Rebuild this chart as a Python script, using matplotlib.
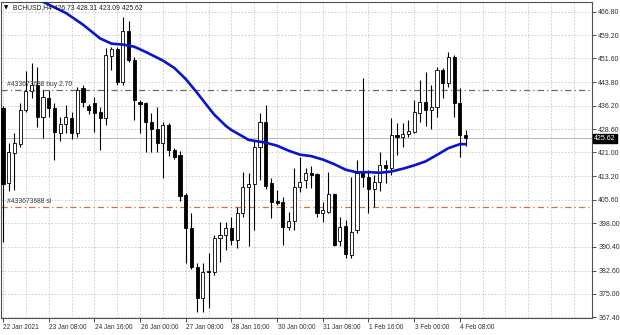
import matplotlib
matplotlib.use("Agg")
import matplotlib.pyplot as plt
import matplotlib.transforms as mtransforms
import numpy as np

plt.rcParams['font.family'] = ['Liberation Sans', 'DejaVu Sans']

# H4 bars of BCHUSD, 22 Jan 2021 00:00 onwards (open, high, low, close)
opens = [435.4, 411.2, 420.9, 423.8, 434.8, 441.1, 442.9, 432.6, 438.6, 435.4,
         427.4, 430.3, 432.1, 427.2, 441.9, 436.1, 437.2, 434.3, 432.1, 452.4,
         454.6, 444.0, 460.6, 451.1, 437.5, 437.2, 431.0, 428.5, 424.2, 429.9,
         421.7, 420.2, 407.2, 396.3, 383.8, 373.6, 382.2, 382.2, 393.1, 394.2,
         396.3, 392.5, 401.2, 409.9, 410.8, 422.9, 431.0, 411.2, 405.3, 405.0,
         396.9, 398.8, 409.7, 412.0, 414.4, 414.0, 401.4, 401.7, 407.5, 392.3,
         397.1, 387.7, 395.8, 414.2, 412.9, 409.0, 411.5, 416.9, 415.9, 426.7,
         425.9, 426.9, 427.8, 433.9, 437.5, 434.8, 435.9, 447.8, 443.5, 452.0,
         437.0, 426.73]
highs = [436.0, 424.0, 427.4, 437.2, 447.6, 450.0, 448.9, 441.3, 441.3, 437.0,
         432.6, 436.5, 434.3, 442.2, 442.9, 436.8, 438.9, 435.9, 454.9, 455.4,
         455.4, 465.2, 463.9, 452.2, 438.1, 437.5, 433.7, 435.9, 431.0, 430.5,
         422.3, 421.5, 407.7, 401.2, 384.9, 384.9, 388.2, 394.2, 398.5, 398.5,
         400.1, 403.4, 414.7, 414.2, 425.1, 433.7, 436.5, 412.6, 408.8, 406.6,
         401.7, 415.9, 419.6, 415.9, 416.6, 414.2, 405.0, 414.7, 407.9, 400.1,
         399.0, 413.1, 418.6, 445.1, 415.3, 413.7, 421.3, 418.6, 432.1, 430.5,
         430.5, 431.6, 438.1, 444.6, 447.3, 442.9, 448.9, 448.4, 453.8, 452.7,
         441.9, 428.31]
lows = [392.0, 408.6, 408.8, 422.9, 434.3, 438.6, 429.4, 425.6, 432.4, 418.6,
        424.6, 427.2, 425.3, 426.1, 435.9, 433.5, 427.8, 421.8, 429.9, 447.8,
        443.0, 443.0, 450.5, 431.5, 427.2, 421.0, 421.0, 421.0, 412.6, 420.0,
        419.0, 405.1, 385.0, 383.0, 369.2, 369.2, 370.3, 381.0, 385.5, 389.4,
        391.0, 389.9, 400.0, 390.5, 395.8, 412.0, 409.0, 399.6, 404.0, 390.9,
        395.8, 395.8, 408.0, 409.4, 409.4, 400.1, 398.5, 401.2, 390.6, 390.6,
        386.6, 386.6, 394.7, 409.9, 401.4, 403.4, 408.6, 411.1, 413.7, 420.2,
        422.9, 425.9, 427.2, 431.0, 429.6, 428.5, 432.6, 438.6, 442.4, 432.6,
        419.6, 423.09]
closes = [410.7, 421.3, 424.0, 434.8, 441.1, 442.9, 432.6, 439.2, 435.4, 427.8,
          430.3, 432.4, 427.4, 441.3, 437.5, 434.8, 433.9, 432.1, 452.7, 454.6,
          444.0, 460.6, 451.1, 438.1, 436.8, 431.0, 428.5, 424.2, 429.9, 421.7,
          419.6, 406.8, 396.3, 383.8, 373.6, 382.2, 382.0, 393.1, 394.2, 396.3,
          392.5, 401.2, 409.9, 410.8, 422.9, 431.0, 410.1, 405.0, 404.7, 396.9,
          398.8, 409.7, 411.5, 414.4, 413.8, 401.4, 402.3, 407.5, 390.9, 396.9,
          388.0, 395.2, 414.2, 412.9, 409.0, 411.5, 416.9, 415.9, 426.7, 426.1,
          427.0, 428.0, 434.3, 437.5, 434.8, 435.9, 447.8, 443.7, 452.0, 437.0,
          426.7, 425.62]

# moving average (bar index, price)
ma_bars = [6, 8, 11, 14, 17, 19, 21, 23, 25, 28, 30, 32, 34, 35, 37, 39, 40,
           42, 43, 45, 46, 48, 50, 52, 54, 56, 58, 60, 62, 64, 66, 68, 70, 72,
           74, 76, 78, 80, 81]
ma_vals = [471.0, 469.1, 466.4, 462.6, 458.1, 456.4, 456.1, 455.4, 453.7,
           450.9, 448.5, 444.9, 440.4, 438.0, 433.3, 429.7, 428.3, 426.2,
           425.1, 424.5, 424.2, 423.2, 421.6, 420.3, 419.8, 418.7, 417.2,
           415.4, 414.5, 414.6, 414.4, 414.8, 415.7, 416.8, 418.1, 420.2,
           422.4, 423.7, 423.7]

price_ticks = [466.8, 459.2, 451.6, 443.8, 436.2, 428.6, 421.0, 413.2, 405.6,
               398.0, 390.4, 382.6, 375.0, 367.4]
time_labels = ["22 Jan 2021", "23 Jan 08:00", "24 Jan 16:00", "26 Jan 00:00",
               "27 Jan 08:00", "28 Jan 16:00", "30 Jan 00:00", "31 Jan 08:00",
               "1 Feb 16:00", "3 Feb 00:00", "4 Feb 08:00"]

buy_price = 441.3
sl_price = 403.4
last_price = 425.62
header = "BCHUSD,H4 426.73 428.31 423.09 425.62"

W, H = 620, 335
fig = plt.figure(figsize=(W / 100, H / 100), dpi=100)
fig.patch.set_facecolor('white')
ax = fig.add_axes([1 / W, 17 / H, 591 / W, 316 / H])

o = np.array(opens)
c = np.array(closes)
x = np.arange(len(o))
up = c >= o

# grid
grid_kw = dict(color='#c8c8c8', lw=0.6, ls=(0, (2, 2)), zorder=0)
for gx in range(0, 104, 4):
    ax.axvline(gx, **grid_kw)
for gy in price_ticks:
    ax.axhline(gy, **grid_kw)

# order levels and current price
ax.axhline(buy_price, color='#4d7d4d', lw=0.9, ls=(0, (5, 2.5, 1, 2.5)), zorder=1)
ax.axhline(sl_price, color='#dc6e38', lw=0.9, ls=(0, (5, 2.5, 1, 2.5)), zorder=1)
ax.axhline(last_price, color='#b4b4b4', lw=0.7, zorder=1)
ax.text(0.7, buy_price + 0.6, "#433673688 buy 2.70", fontsize=4.9,
        color='#3a3a3a', va='bottom', ha='left', zorder=4)
ax.text(0.7, sl_price + 0.6, "#433673688 sl", fontsize=4.9,
        color='#3a3a3a', va='bottom', ha='left', zorder=4)

# candles
ax.vlines(x, lows, highs, color='black', lw=0.8, zorder=2)
body = np.maximum(np.abs(c - o), 0.35)
bottom = np.minimum(o, c)
ax.bar(x[up], body[up], bottom=bottom[up], width=0.55, color='white',
       edgecolor='black', lw=0.6, zorder=3)
ax.bar(x[~up], body[~up], bottom=bottom[~up], width=0.55, color='black',
       edgecolor='black', lw=0.6, zorder=3)

# moving average
ax.plot(ma_bars, ma_vals, color='#0a14cc', lw=1.9, solid_capstyle='round', zorder=5)

ax.set_xlim(-0.35, 103.15)
ax.set_ylim(367.15, 469.95)

ax.yaxis.tick_right()
ax.set_yticks(price_ticks)
ax.set_yticklabels(["%.2f" % v for v in price_ticks])
ax.tick_params(axis='y', length=3, width=0.6, pad=1.5, labelsize=5,
               colors='#303030')
ax.set_xticks(range(0, 88, 8))
ax.set_xticklabels(time_labels)
ax.tick_params(axis='x', length=3, width=0.6, pad=1.0, labelsize=4.7,
               colors='#303030')
for lbl in ax.get_xticklabels():
    lbl.set_ha('left')
    lbl.set_transform(lbl.get_transform() +
                      mtransforms.ScaledTranslation(0.5 / 100, 0, fig.dpi_scale_trans))

for sp in ax.spines.values():
    sp.set_color('#505050')
    sp.set_linewidth(0.8)

# current price tag on the price scale
tr = mtransforms.blended_transform_factory(ax.transAxes, ax.transData)
ax.text(1.003, last_price, "%.2f" % last_price, transform=tr, fontsize=5,
        color='white', va='center', ha='left', clip_on=False, zorder=6,
        bbox=dict(facecolor='black', edgecolor='black', pad=0.9))

# header
fig.text(4 / W, 1 - 8 / H, "\u25bc", fontsize=4, family='DejaVu Sans',
         va='center', ha='left', color='black')
fig.text(13 / W, 1 - 8 / H, header, fontsize=4.9, va='center', ha='left',
         color='#202020')

fig.savefig("out.png", dpi=100)
